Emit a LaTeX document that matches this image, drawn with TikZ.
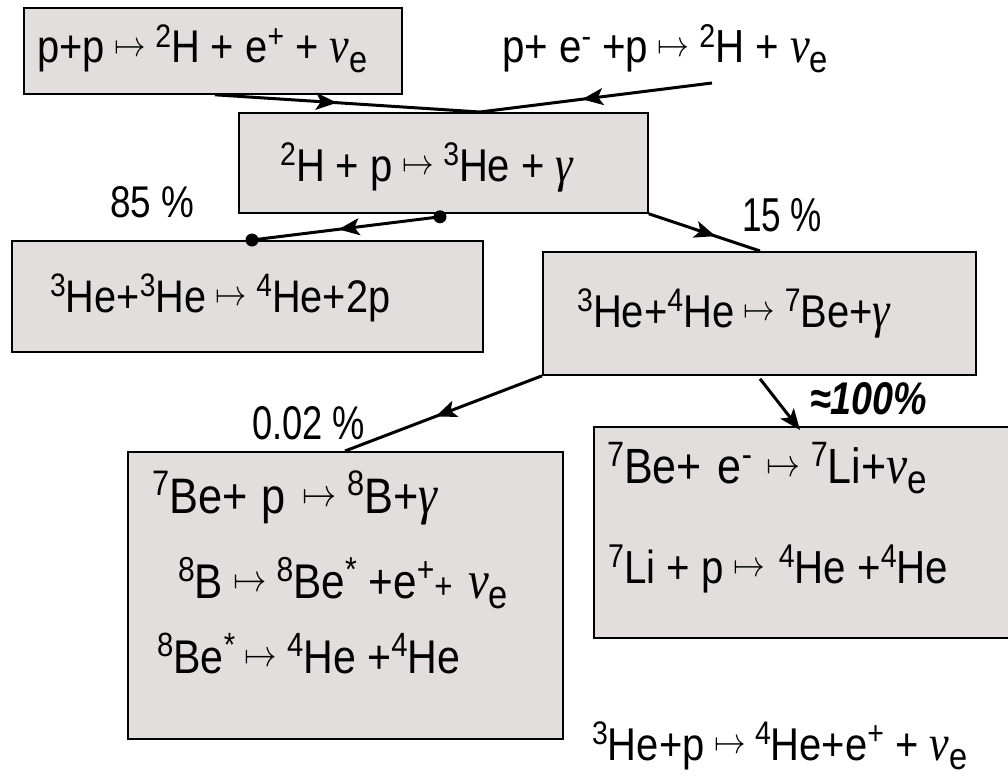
\documentclass[tikz,border=0pt]{standalone}
\usepackage{fontspec}
\setmainfont{Liberation Sans}
\newfontfamily\grk{Liberation Serif}
\usetikzlibrary{decorations.markings,arrows.meta,calc}
\definecolor{boxfill}{RGB}{226,222,222}
\newcommand\hsup[1]{\raisebox{13pt}{\fontsize{27}{27}\selectfont #1}}
\newcommand\hsub[1]{\raisebox{-8pt}{\fontsize{31}{31}\selectfont #1}}
\newcommand\mto{\hspace{9pt}\raisebox{5pt}{\resizebox{30pt}{!}{$\mapsto$}}\hspace{9pt}}
\newcommand\gnu{{\grk\itshape\fontsize{42}{42}\selectfont ν}}
\newcommand\ggam{{\grk\itshape\fontsize{42}{42}\selectfont γ}}
\newcommand\eqn[2]{\resizebox{#1}{!}{\scalebox{1}[1.15]{\fontsize{38}{40}\selectfont #2}}}
\begin{document}
\begin{tikzpicture}[x=1pt,y=-1pt,
  box/.style={draw=black, line width=1.8pt, fill=boxfill, inner sep=0pt, anchor=north west},
  eq/.style={anchor=base west, inner sep=0pt},
  conn/.style={line width=3pt, draw=black},
  midarr/.style={postaction={decorate}, decoration={markings, mark=at position #1 with {\arrow{Stealth[length=21pt,width=17pt,inset=5pt]}}}},
  dot/.style={circle, fill=black, inner sep=0pt, minimum size=13pt}]
\fill[white] (0,0) rectangle (1008,776);
\useasboundingbox (0,0) rectangle (1008,776);
% boxes
\node[box, minimum width=378pt, minimum height=86pt] (b1) at (23,7) {};
\node[box, minimum width=409pt, minimum height=100pt] (b2) at (238,112) {};
\node[box, minimum width=471pt, minimum height=111pt] (b3) at (11,240) {};
\node[box, minimum width=433pt, minimum height=123pt] (b4) at (542,251) {};
\node[box, minimum width=435pt, minimum height=287pt] (b5) at (127,451) {};
\node[box, minimum width=422pt, minimum height=211pt] (b6) at (593,426) {};
% texts
\node[eq] (t1) at (37,63) {\eqn{330pt}{p+p\mto\hsup{2}H + e\hsup{+} + \gnu\hsub{e}}};
\node[eq] (t2) at (502,63) {\eqn{326pt}{p+ e\hsup{-} +p\mto\hsup{2}H + \gnu\hsub{e}}};
\node[eq] (t3) at (280,181) {\eqn{293pt}{\hsup{2}H + p\mto\hsup{3}He + \ggam}};
\node[eq] (t4) at (50,312) {\eqn{340pt}{\hsup{3}He+\hsup{3}He\mto\hsup{4}He+2p}};
\node[eq] (t5) at (577,327) {\eqn{313pt}{\hsup{3}He+\hsup{4}He\mto\hsup{7}Be+\ggam}};
\node[eq] (t6) at (152,513) {\eqn{285pt}{\hsup{7}Be+\hspace{12pt}p\hspace{6pt}\mto\hsup{8}B+\ggam}};
\node[eq] (t7) at (178,598) {\eqn{330pt}{\hsup{8}B\mto\hsup{8}Be\hsup{*} +e\hsup{+}{\fontsize{28}{28}\selectfont+}\hspace{14pt}\gnu\hsub{e}}};
\node[eq] (t8) at (157,673) {\eqn{303pt}{\hsup{8}Be\hsup{*}\mto\hsup{4}He +\hsup{4}He}};
\node[eq] (t9) at (607,483) {\eqn{320pt}{\hsup{7}Be+\hspace{14pt}e\hsup{-}\hspace{4pt}\mto\hsup{7}Li+\gnu\hsub{e}}};
\node[eq] (t10) at (608,583) {\eqn{340pt}{\hsup{7}Li + p\mto\hspace{4pt}\hsup{4}He +\hsup{4}He}};
\node[eq] (t11) at (592,760) {\eqn{375pt}{\hsup{3}He+p\mto\hsup{4}He+e\hsup{+} + \gnu\hsub{e}}};
% percentage labels
\node[eq] (p85) at (110,217) {\resizebox{84pt}{31pt}{\fontsize{38}{40}\selectfont 85 \%}};
\node[eq] (p15) at (742,231) {\resizebox{80pt}{33pt}{\fontsize{38}{40}\selectfont 15 \%}};
\node[eq] (p002) at (252,439) {\resizebox{113pt}{33pt}{\fontsize{38}{40}\selectfont 0.02 \%}};
\node[eq] (p100) at (810,414) {\resizebox{117pt}{32pt}{\fontsize{38}{40}\selectfont\bfseries\itshape ≈100\%}};
% connection points
\coordinate (a1s) at ($(b1.south west)+(192,0)$);
\coordinate (j) at ($(b2.north west)+(242,0)$);
\coordinate (c2) at (712,83);
\coordinate (d1) at ($(b2.south west)+(202,3)$);
\coordinate (d2) at ($(b3.north west)+(241,0)$);
\coordinate (a3e) at ($(b4.north west)+(218,0)$);
\coordinate (a4e) at ($(b5.north west)+(218,0)$);
\coordinate (a5s) at ($(b4.south west)+(218,3)$);
\coordinate (a5e) at ($(b6.north west)+(207,4)$);
% connectors
\draw[conn, midarr=0.46] (a1s) -- (j);
\draw[conn, midarr=0.56] (c2) -- (j);
\draw[conn, midarr=0.54] (d1) -- (d2);
\node[dot] at (d1) {};
\node[dot] at (d2) {};
\draw[conn, midarr=0.6] (b2.south east) -- (a3e);
\draw[conn, midarr=0.54] (b4.south west) -- (a4e);
\draw[conn, -{Stealth[length=21pt,width=17pt,inset=5pt]}] (a5s) -- (a5e);
\end{tikzpicture}
\end{document}
